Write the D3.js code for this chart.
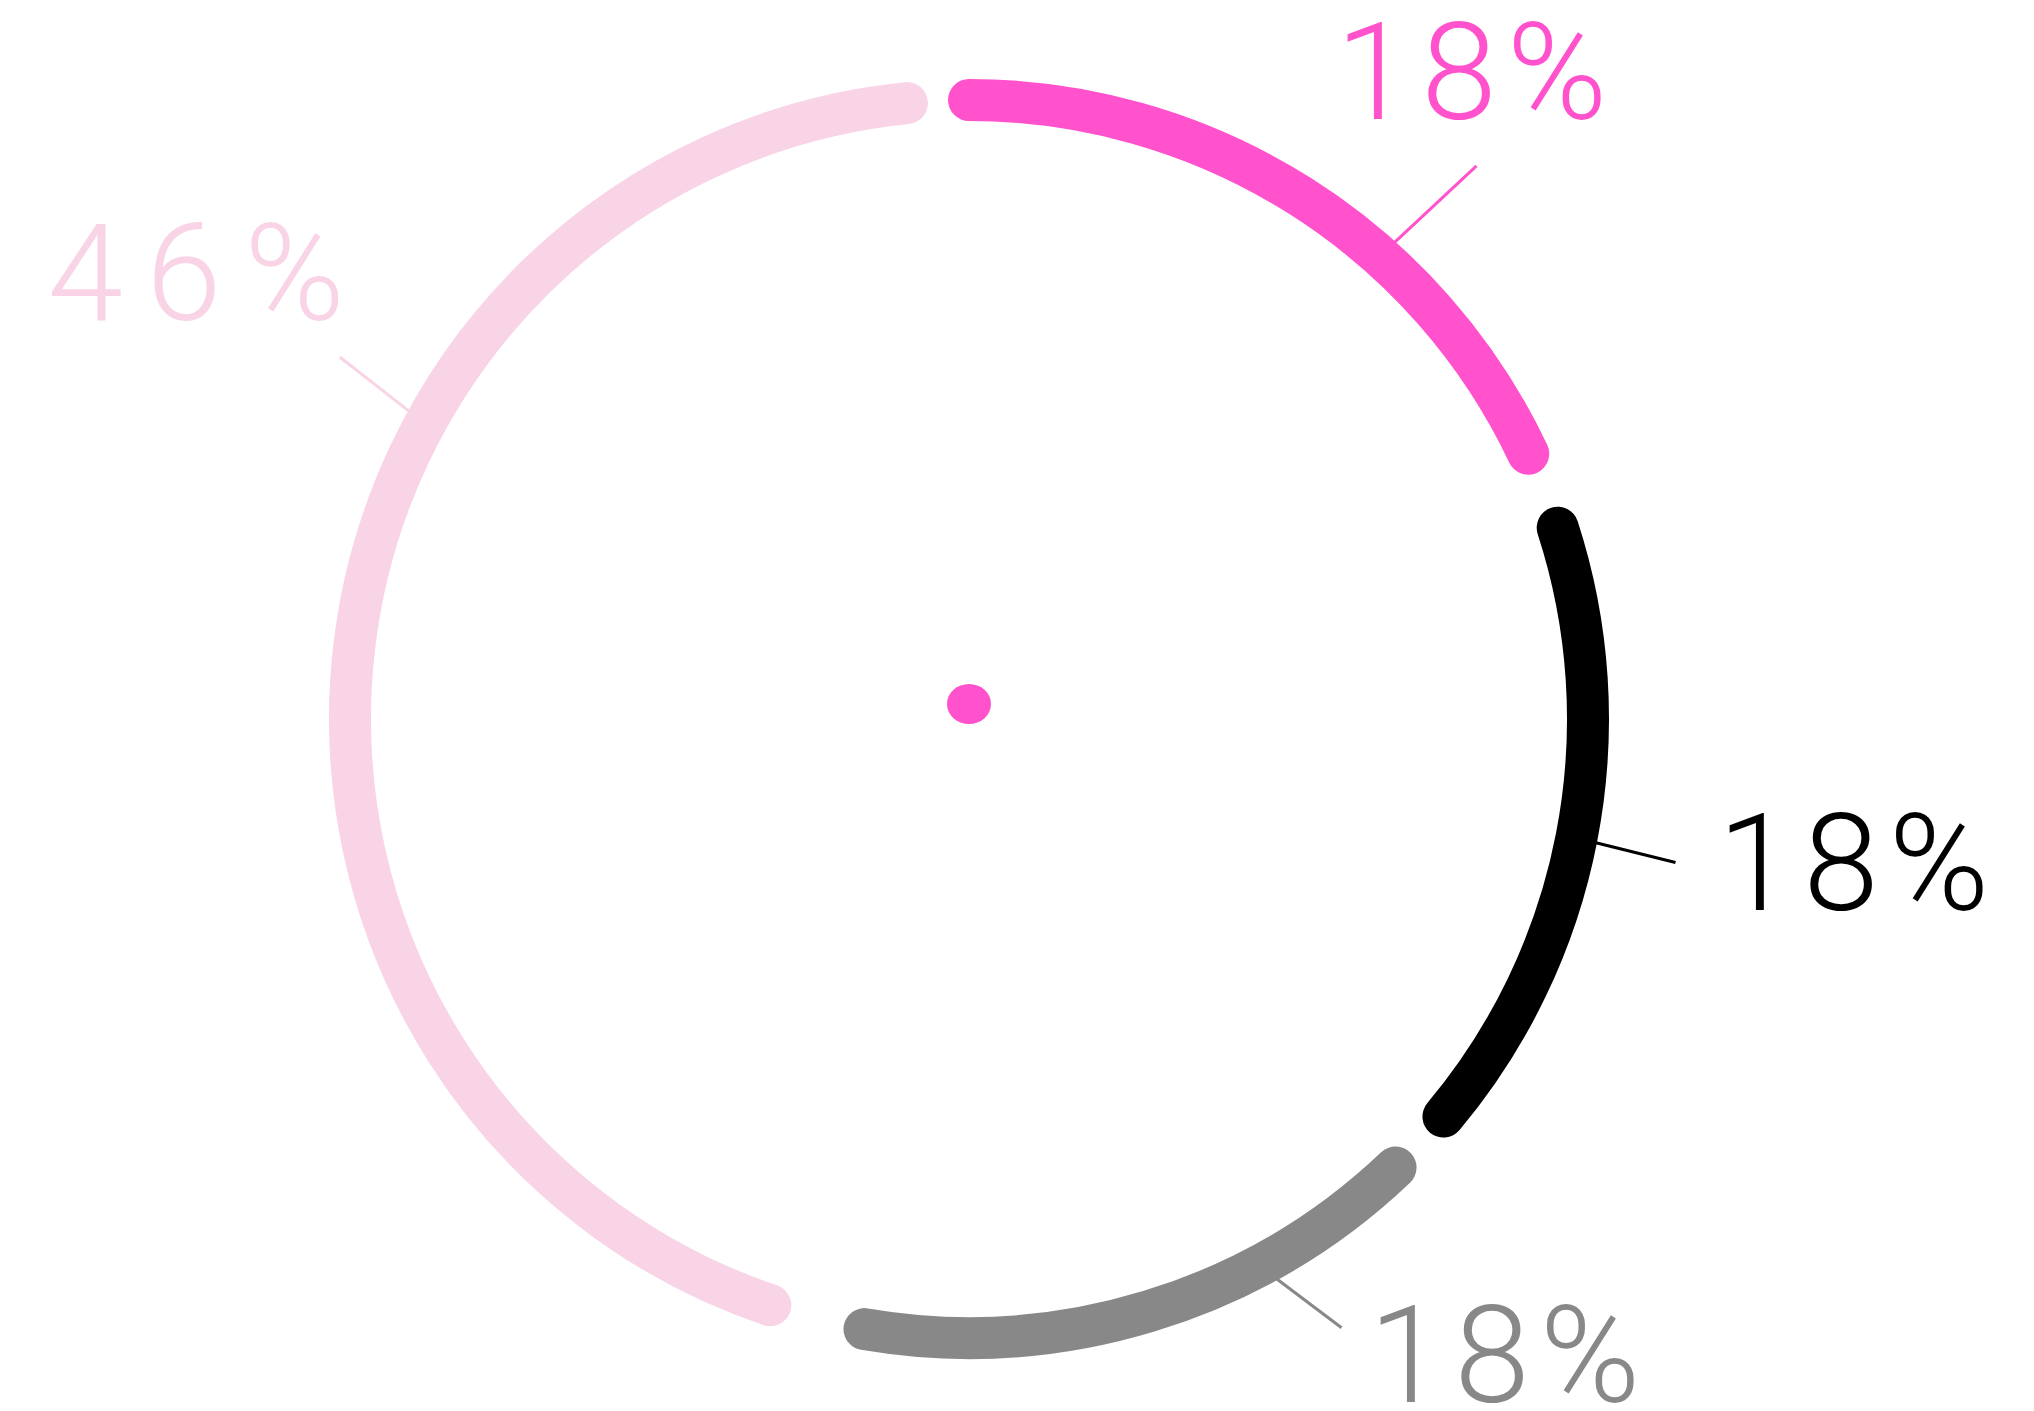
<!DOCTYPE html>
<html>
<head>
<meta charset="utf-8">
<script src="https://cdn.jsdelivr.net/npm/d3@7"></script>
<style>
  body { margin: 0; background: #fff; }
  svg { display: block; background: #fff; }
  .label { font-family: Roboto, "Open Sans", sans-serif; font-weight: 300; font-size: 136px; }
</style>
</head>
<body>
<svg width="2034" height="1411"></svg>
<script>
const svg = d3.select("svg");

// data, in percent of a full turn
const segments = ["a", "b", "c", "d"];
const shares = [18, 18, 18, 46];
const arcStart = [0, 20, 37.9, 55.2];
const arcEnd = [17.95, 36.1, 52.7, 98.4];
const labelAt = [11.6, 28.1, 42.0, 83.0];

const colors = ["#ff52cc", "#000000", "#888888", "#f8d4e6"];

// layout
const cx = 969, cy = 719, r = 619, thick = 42;
const leaderDir = [47, 104, 127, 308];   // degrees, clockwise from up
const leaderLen = [112, 82, 81, 88];
const textOff = [
  { dx: 0, dy: -47, ls: 10 },
  { dx: 183, dy: 47, ls: 10 },
  { dx: 168, dy: 74, ls: 10 },
  { dx: -132, dy: -37, ls: 23 }
];

const angle = d3.scaleLinear().domain([0, 100]).range([0, 2 * Math.PI]);
const rad = d3.scaleLinear().domain([0, 360]).range([0, 2 * Math.PI]);
const pt = (a, R) => [cx + R * Math.sin(a), cy - R * Math.cos(a)];

const data = segments.map((s, i) => {
  const start = pt(angle(labelAt[i]), r + thick / 2 - 1);
  const dir = rad(leaderDir[i]);
  const end = [start[0] + leaderLen[i] * Math.sin(dir), start[1] - leaderLen[i] * Math.cos(dir)];
  return {
    key: s, share: shares[i], a0: angle(arcStart[i]), a1: angle(arcEnd[i]),
    color: colors[i], start, end, off: textOff[i]
  };
});

/* leader lines */
svg.selectAll(".leader")
  .data(data)
  .enter().append("line")
  .attr("class", "leader")
  .attr("x1", d => d.start[0])
  .attr("y1", d => d.start[1])
  .attr("x2", d => d.end[0])
  .attr("y2", d => d.end[1])
  .attr("stroke", d => d.color)
  .attr("stroke-width", 3);

/* ring segments */
svg.selectAll(".seg")
  .data(data)
  .enter().append("path")
  .attr("class", "seg")
  .attr("d", d => {
    const p = d3.path();
    p.arc(cx, cy, r, d.a0 - Math.PI / 2, d.a1 - Math.PI / 2);
    return p.toString();
  })
  .attr("fill", "none")
  .attr("stroke", d => d.color)
  .attr("stroke-width", thick)
  .attr("stroke-linecap", "round");

/* labels */
svg.selectAll(".label")
  .data(data)
  .enter().append("text")
  .attr("class", "label")
  .attr("x", d => d.end[0] + d.off.dx)
  .attr("y", d => d.end[1] + d.off.dy)
  .attr("text-anchor", "middle")
  .attr("letter-spacing", d => d.off.ls)
  .attr("fill", d => d.color)
  .text(d => d.share + "%");

/* centre dot */
svg.append("ellipse")
  .attr("cx", cx)
  .attr("cy", cy - 15)
  .attr("rx", 22)
  .attr("ry", 20)
  .attr("fill", colors[0]);
</script>
</body>
</html>
